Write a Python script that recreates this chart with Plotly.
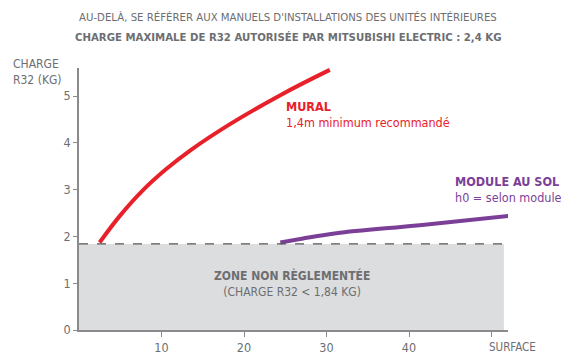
import plotly.graph_objects as go

# Surface (m²) and maximum R32 charge (kg)
mural_surface = [2.5, 5.0, 7.7, 10.5, 13.5, 18.3, 24.4, 30.4]
mural_charge = [1.87, 2.45, 2.98, 3.43, 3.84, 4.40, 5.02, 5.56]

sol_surface = [24.4, 27.0, 31.2, 41.3, 53.4]
sol_charge = [1.87, 1.95, 2.07, 2.24, 2.46]

zone_limit = 1.84
zone_end = 51.5

x_ticks = [10, 20, 30, 40, 50]
x_tick_labels = ["10", "20", "30", "40", ""]
y_ticks = [0, 1, 2, 3, 4, 5]

RED = "#e8202a"
PURPLE = "#7b3f98"
GREY_TXT = "#6d6e71"
AXIS = "#8a8a8d"
FONT = "DejaVu Sans Condensed, Liberation Sans Narrow, sans-serif"

fig = go.Figure()

# Unregulated zone
fig.add_shape(type="rect", x0=0, x1=zone_end, y0=0, y1=zone_limit,
              fillcolor="#dcdddf", line_width=0, layer="below")
fig.add_shape(type="line", x0=0, x1=zone_end, y0=zone_limit, y1=zone_limit,
              line=dict(color="#555555", width=1.2, dash="dash"))

fig.add_trace(go.Scatter(x=mural_surface, y=mural_charge, mode="lines",
                         line=dict(color=RED, width=4, shape="spline", smoothing=1.2),
                         showlegend=False, cliponaxis=False))
fig.add_trace(go.Scatter(x=sol_surface, y=sol_charge, mode="lines",
                         line=dict(color=PURPLE, width=4, shape="spline"),
                         showlegend=False, cliponaxis=False))

ann = [
    dict(y=17, text="AU-DELÀ, SE RÉFÉRER AUX MANUELS D'INSTALLATIONS DES UNITÉS INTÉRIEURES"),
    dict(y=38, text="<b>CHARGE MAXIMALE DE R32 AUTORISÉE PAR MITSUBISHI ELECTRIC : 2,4 KG</b>"),
]
for a in ann:
    fig.add_annotation(xref="paper", yref="paper", x=(288 - 78.5) / 430,
                       y=(330 - a["y"]) / 262, text=a["text"], showarrow=False,
                       font=dict(family=FONT, size=11.3, color=GREY_TXT),
                       xanchor="center", yanchor="middle")

# Axis titles
fig.add_annotation(xref="paper", yref="paper", x=(10 - 78.5) / 430, y=(330 - 72) / 262,
                   text="CHARGE<br>R32 (KG)", showarrow=False, align="left",
                   xanchor="left", yanchor="middle",
                   font=dict(family=FONT, size=12, color=GREY_TXT))
fig.add_annotation(xref="paper", yref="paper", x=(487 - 78.5) / 430, y=(330 - 347) / 262,
                   text="SURFACE", showarrow=False, xanchor="left", yanchor="middle",
                   font=dict(family=FONT, size=11.5, color=GREY_TXT))

# Series labels
fig.add_annotation(x=24.9, y=4.60, text="<b>MURAL</b><br>1,4m minimum recommandé",
                   showarrow=False, align="left", xanchor="left", yanchor="middle",
                   font=dict(family=FONT, size=12.5, color=RED))
fig.add_annotation(x=45.3, y=3.0, text="<b>MODULE AU SOL</b><br>h0 = selon module",
                   showarrow=False, align="left", xanchor="left", yanchor="middle",
                   font=dict(family=FONT, size=12.5, color=PURPLE))
fig.add_annotation(x=25.8, y=1.0, text="<b>ZONE NON RÈGLEMENTÉE</b><br>(CHARGE R32 < 1,84 KG)",
                   showarrow=False, align="center", xanchor="center", yanchor="middle",
                   font=dict(family=FONT, size=12, color=GREY_TXT))

fig.update_layout(
    width=561, height=355,
    margin=dict(l=78.5, r=52.5, t=68, b=25),
    plot_bgcolor="white", paper_bgcolor="white",
    font=dict(family=FONT, size=12, color=GREY_TXT),
    xaxis=dict(range=[0, 52], tickvals=x_ticks, ticktext=x_tick_labels,
               automargin=False,
               showgrid=False, zeroline=False, showline=True, linecolor=AXIS,
               linewidth=1.5, ticks="outside", ticklen=5, tickcolor=AXIS,
               tickfont=dict(size=12.5, color=GREY_TXT)),
    yaxis=dict(range=[0, 5.6], tickvals=y_ticks, automargin=False,
               showgrid=False, zeroline=False, showline=True, linecolor=AXIS,
               linewidth=1.5, ticks="outside", ticklen=4, tickcolor=AXIS,
               tickfont=dict(size=12.5, color=GREY_TXT)),
)

fig.write_html("out.html")
